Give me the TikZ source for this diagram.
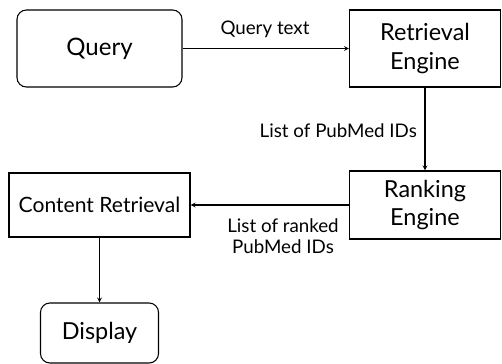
\documentclass[tikz,border=0pt]{standalone}
\usepackage{fontspec}
\setmainfont{Lato}
\usetikzlibrary{positioning}

\tikzset{
  block/.style={draw, line width=0.9pt, align=center, inner sep=2pt,
    font=\fontsize{20}{24.7}\selectfont},
  soft/.style={block, rounded corners=8pt},
  flow/.style={->, >=stealth, line width=0.9pt},
  note/.style={align=center, font=\fontsize{16}{18.4}\selectfont}
}

\begin{document}
\begin{tikzpicture}[x=0.03cm, y=-0.03cm]
  \useasboundingbox (0,0) rectangle (502,364);

  % boxes
  \node[soft, minimum width=4.95cm, minimum height=2.31cm,
    font=\fontsize{20.5}{24}\selectfont] (query) at (99.5,48.5) {Query};
  \node[block, minimum width=4.53cm, minimum height=2.31cm] (retrieval) at (425,48.5) {Retrieval\\Engine};
  \node[block, minimum width=4.53cm, minimum height=2.04cm] (ranking) at (425,205) {Ranking\\Engine};
  \node[block, minimum width=5.43cm, minimum height=1.92cm,
    font=\fontsize{18}{22}\selectfont] (content) at (99.5,205) {Content Retrieval};
  \node[soft, minimum width=3.54cm, minimum height=1.8cm] (display) at (99.5,333) {Display};

  % connectors
  \draw[flow] (query) -- (retrieval);
  \draw[flow] (retrieval) -- (ranking);
  \draw[flow] (ranking) -- (content);
  \draw[flow] (content) -- (display);

  % labels
  \node[note] (qtext) at (265,29) {Query text};
  \node[note, anchor=east] (idlist) at (421,131) {List of PubMed IDs};
  \node[note] (rankedlist) at (283,236) {List of ranked\\PubMed IDs};
\end{tikzpicture}
\end{document}
